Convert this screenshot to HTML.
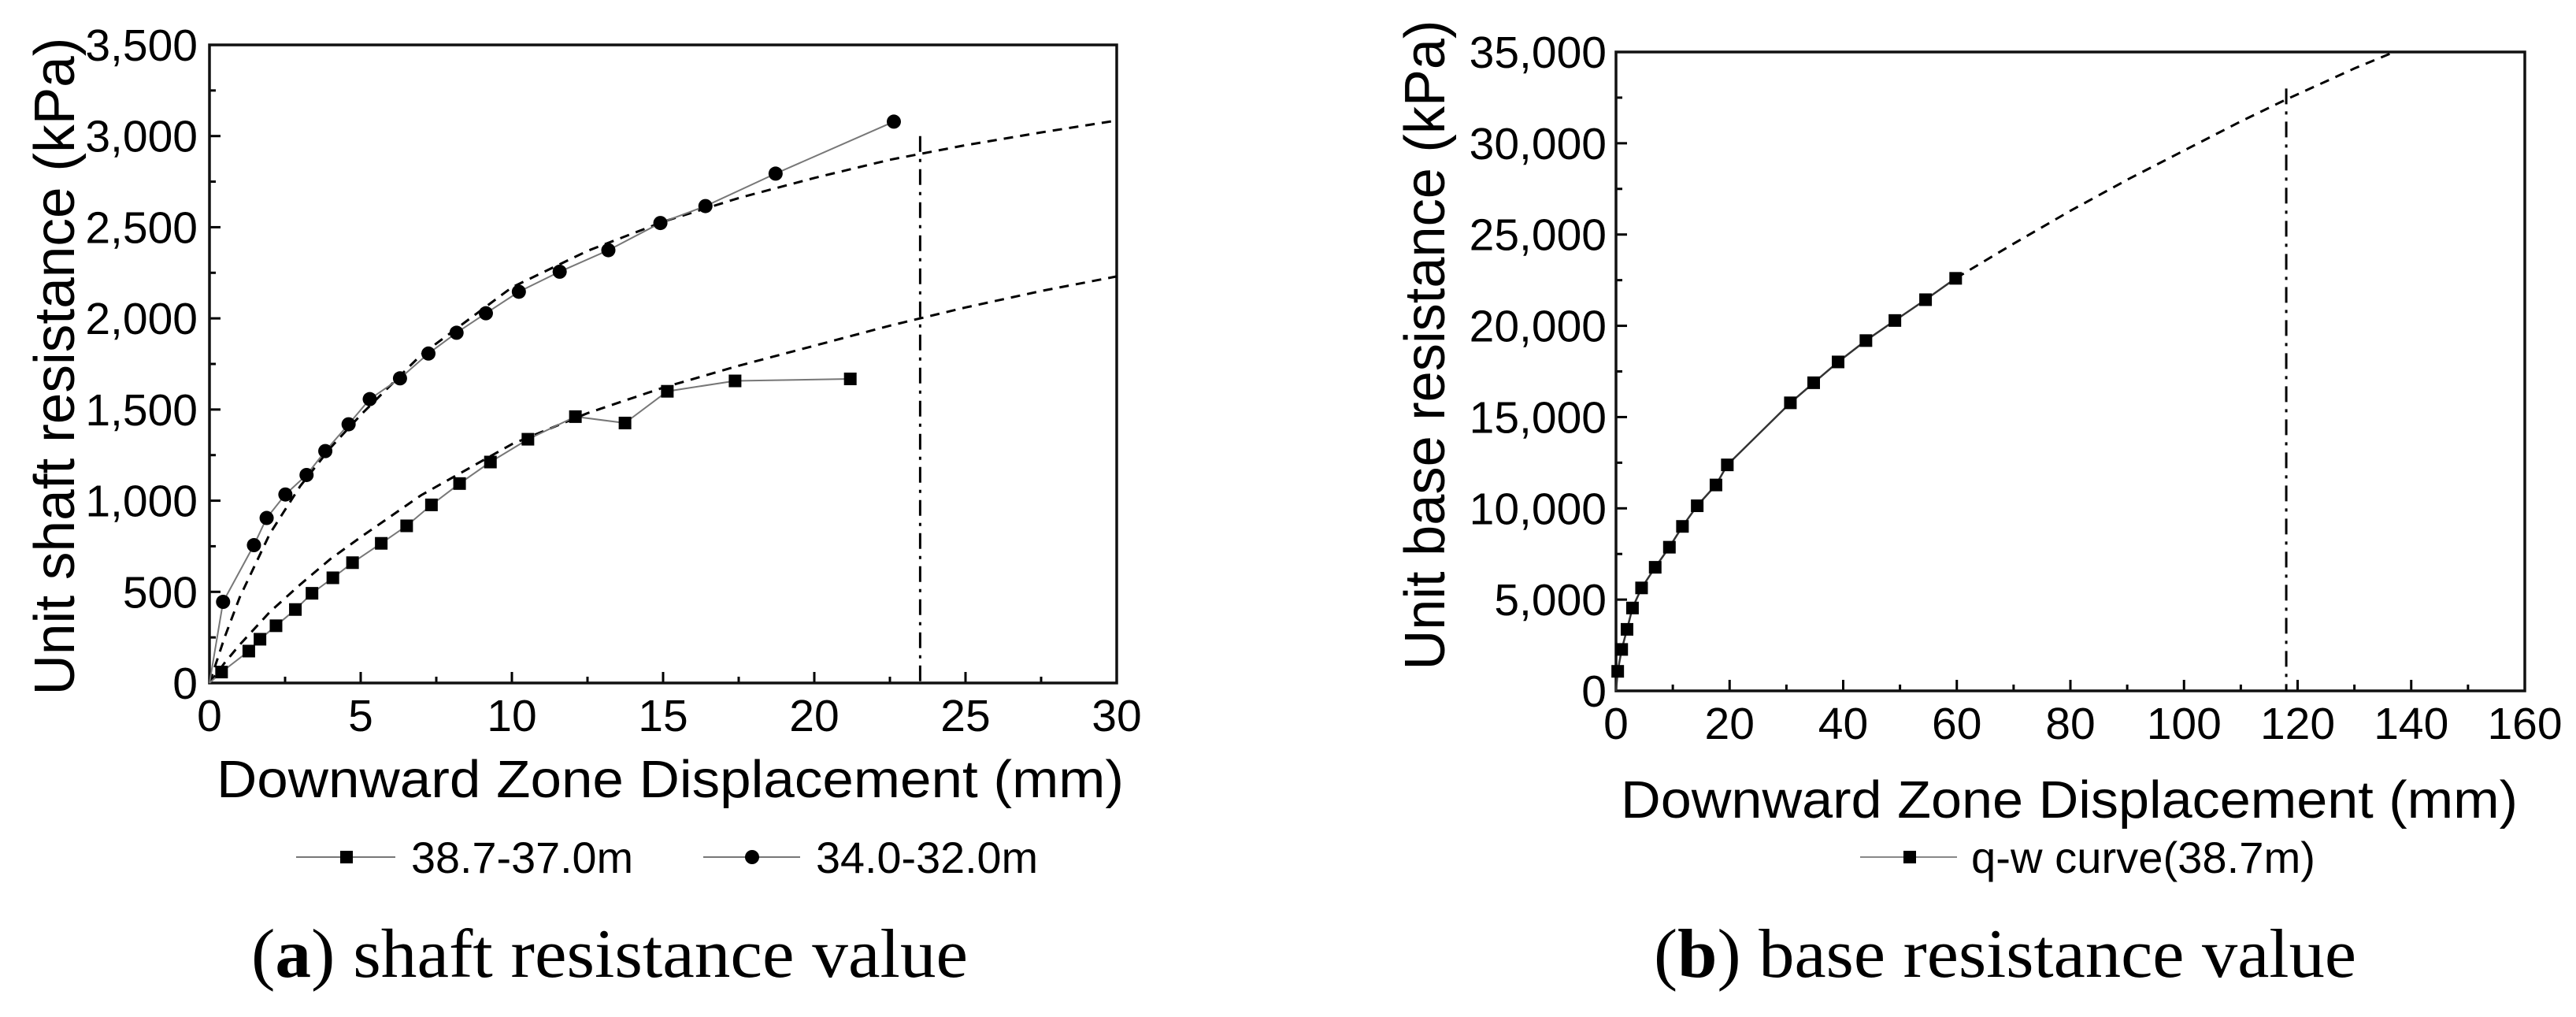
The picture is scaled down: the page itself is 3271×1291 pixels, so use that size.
<!DOCTYPE html>
<html><head><meta charset="utf-8">
<style>
html,body{margin:0;padding:0;background:#fff;}
svg{display:block;font-family:"Liberation Sans",Arial,sans-serif;}
</style></head>
<body>
<svg id="fig" width="3271" height="1291" viewBox="0 0 3271 1291" xmlns="http://www.w3.org/2000/svg">
<rect width="3271" height="1291" fill="#fff"/>
<g id="chartA"></g>
<g id="chartB"></g>
<text x="319" y="1240" font-family="'Liberation Serif',serif" font-size="88" textLength="910" lengthAdjust="spacingAndGlyphs">(<tspan font-weight="bold">a</tspan>) shaft resistance value</text>
<text x="2100" y="1240" font-family="'Liberation Serif',serif" font-size="88" textLength="892" lengthAdjust="spacingAndGlyphs">(<tspan font-weight="bold">b</tspan>) base resistance value</text>
</svg>
<script>
// ---- Chart A data ----
const aSquareX = [0.4,1.3,1.67,2.2,2.84,3.39,4.08,4.73,5.68,6.52,7.34,8.27,9.29,10.53,12.1,13.74,15.14,17.38,21.19];
const aSquareY = [60,175,240,314,403,492,577,660,766,862,977,1094,1212,1337,1461,1426,1600,1657,1668];
const aCircleX = [0.45,1.47,1.89,2.51,3.21,3.83,4.6,5.3,6.3,7.24,8.17,9.14,10.23,11.58,13.19,14.91,16.4,18.72,22.63];
const aCircleY = [445,756,905,1034,1141,1272,1419,1557,1671,1807,1921,2028,2146,2256,2374,2523,2616,2794,3079];
const aFitX = [0,0.5,1,2,3,4,5,7,10,12.5,15,17.5,20,22.5,25,27.5,30];
const aFitUpperY = [0,250,470,820,1080,1290,1470,1800,2170,2370,2530,2660,2770,2870,2950,3020,3085];
const aFitLowerY = [0,110,210,390,540,680,800,1030,1310,1480,1620,1740,1850,1960,2060,2150,2230];
const aLimitX = [23.5];
const aLimitTop = [3000];
const aXTicks = [0,5,10,15,20,25,30];
const aYTicks = [0,500,1000,1500,2000,2500,3000,3500];
const aYTickLabels = ["0","500","1,000","1,500","2,000","2,500","3,000","3,500"];
// ---- Chart B data ----
const bX = [0.3,1.0,1.94,2.9,4.5,6.9,9.4,11.7,14.3,17.6,19.6,30.7,34.8,39.1,44,49.1,54.5,59.8];
const bY = [1070,2270,3370,4540,5640,6770,7870,9010,10140,11280,12380,15780,16880,18020,19190,20290,21430,22600];
const bFitX = [59.8,70,80,90,100,110,118,130,137];
const bFitY = [22600,24500,26300,28000,29600,31200,32400,34100,35000];
const bLimitX = [118];
const bLimitTop = [33000];
const bXTicks = [0,20,40,60,80,100,120,140,160];
const bYTicks = [0,5000,10000,15000,20000,25000,30000,35000];
const bYTickLabels = ["0","5,000","10,000","15,000","20,000","25,000","30,000","35,000"];

const NS = "http://www.w3.org/2000/svg";
function mk(parent, tag, attrs){
  const e = document.createElementNS(NS, tag);
  for (const k in attrs) e.setAttribute(k, attrs[k]);
  parent.appendChild(e); return e;
}
function lin(d0,d1,r0,r1){ return v => r0 + (v-d0)/(d1-d0)*(r1-r0); }

function drawAxes(g, sx, sy, X0, X1, Y0, Y1, xt, yt, ytl, xmin, ymin, xLabY, yLabX){
  xt.forEach((v,i)=>{
    const t = mk(g,'line',{x1:sx(v),x2:sx(v),y1:Y1,y2:Y1-14,stroke:'#000','stroke-width':3});
    
    
    const l = mk(g,'text',{x:sx(v),y:xLabY,'font-size':57,'text-anchor':'middle'});
    l.textContent = String(v);
    
    
    if (i < xt.length-1){
      const mv = v + xmin;
      const m = mk(g,'line',{x1:sx(mv),x2:sx(mv),y1:Y1,y2:Y1-8,stroke:'#000','stroke-width':3});
      
      
    }
  });
  yt.forEach((v,i)=>{
    const t = mk(g,'line',{x1:X0,x2:X0+14,y1:sy(v),y2:sy(v),stroke:'#000','stroke-width':3});
    
    
    const l = mk(g,'text',{x:yLabX,y:sy(v)+20,'font-size':57,'text-anchor':'end'});
    l.textContent = ytl[i];
    
    
    if (i < yt.length-1){
      const mv = v + ymin;
      const m = mk(g,'line',{x1:X0,x2:X0+8,y1:sy(mv),y2:sy(mv),stroke:'#000','stroke-width':3});
      
      
    }
  });
  const f = mk(g,'rect',{x:X0,y:Y0,width:X1-X0,height:Y1-Y0,fill:'none',stroke:'#111','stroke-width':3.5});
  
  
}
function pathOf(xs, ys, sx, sy){
  return xs.map((x,i)=>(i?'L':'M')+sx(x).toFixed(1)+' '+sy(ys[i]).toFixed(1)).join(' ');
}
function squares(g, xs, ys, sx, sy, name){
  xs.forEach((x,i)=>{
    const r = mk(g,'rect',{x:sx(x)-8,y:sy(ys[i])-8,width:16,height:16,fill:'#000'});
    
    
  });
}
function circles(g, xs, ys, sx, sy, name){
  xs.forEach((x,i)=>{
    const c = mk(g,'circle',{cx:sx(x),cy:sy(ys[i]),r:9,fill:'#000'});
    
    
  });
}

// ---------- Chart A ----------
(function(){
  const g = document.getElementById('chartA');
  const X0=266, X1=1418, Y0=57, Y1=867;
  const sx = lin(0,30,X0,X1), sy = lin(0,3500,Y1,Y0);
  drawAxes(g,sx,sy,X0,X1,Y0,Y1,aXTicks,aYTicks,aYTickLabels,2.5,250,928,251);
  let p;
  p = mk(g,'path',{d:pathOf(aFitX,aFitUpperY,sx,sy),fill:'none',stroke:'#000','stroke-width':3,'stroke-dasharray':'12 9'});
  
  
  p = mk(g,'path',{d:pathOf(aFitX,aFitLowerY,sx,sy),fill:'none',stroke:'#000','stroke-width':3,'stroke-dasharray':'12 9'});
  
  
  p = mk(g,'line',{x1:sx(aLimitX[0]),x2:sx(aLimitX[0]),y1:sy(aLimitTop[0]),y2:Y1,stroke:'#000','stroke-width':3,'stroke-dasharray':'20 9 4 9'});
  
  
  p = mk(g,'path',{d:'M'+sx(0)+' '+sy(0)+' '+pathOf(aSquareX,aSquareY,sx,sy).replace('M','L'),fill:'none',stroke:'#777','stroke-width':2});
  
  
  p = mk(g,'path',{d:'M'+sx(0)+' '+sy(0)+' '+pathOf(aCircleX,aCircleY,sx,sy).replace('M','L'),fill:'none',stroke:'#777','stroke-width':2});
  
  
  squares(g,aSquareX,aSquareY,sx,sy,'series-38m-point');
  circles(g,aCircleX,aCircleY,sx,sy,'series-34m-point');
  let t = mk(g,'text',{x:275,y:1012,'font-size':67,textLength:1152,lengthAdjust:'spacingAndGlyphs'});
  t.textContent='Downward Zone Displacement (mm)';
  
  
  t = mk(g,'text',{x:0,y:0,'font-size':72,'text-anchor':'middle',transform:'translate(94,465) rotate(-90)',textLength:835,lengthAdjust:'spacingAndGlyphs'});
  t.textContent='Unit shaft resistance (kPa)';
  
  
  const lg = mk(g,'g',{});
  
  
  mk(lg,'line',{x1:376,x2:502,y1:1088,y2:1088,stroke:'#777','stroke-width':2});
  mk(lg,'rect',{x:432,y:1080,width:16,height:16,fill:'#000'});
  t = mk(lg,'text',{x:522,y:1108,'font-size':56,textLength:282,lengthAdjust:'spacingAndGlyphs'});
  t.textContent='38.7-37.0m';
  
  
  mk(lg,'line',{x1:893,x2:1016,y1:1088,y2:1088,stroke:'#777','stroke-width':2});
  mk(lg,'circle',{cx:955,cy:1088,r:9,fill:'#000'});
  t = mk(lg,'text',{x:1036,y:1108,'font-size':56,textLength:282,lengthAdjust:'spacingAndGlyphs'});
  t.textContent='34.0-32.0m';
  
  
})();

// ---------- Chart B ----------
(function(){
  const g = document.getElementById('chartB');
  const X0=2052, X1=3206, Y0=66, Y1=877;
  const sx = lin(0,160,X0,X1), sy = lin(0,35000,Y1,Y0);
  drawAxes(g,sx,sy,X0,X1,Y0,Y1,bXTicks,bYTicks,bYTickLabels,10,2500,938,2040);
  let p;
  p = mk(g,'path',{d:pathOf(bFitX,bFitY,sx,sy),fill:'none',stroke:'#000','stroke-width':3,'stroke-dasharray':'12 9'});
  
  
  p = mk(g,'line',{x1:sx(bLimitX[0]),x2:sx(bLimitX[0]),y1:sy(bLimitTop[0]),y2:Y1,stroke:'#000','stroke-width':3,'stroke-dasharray':'20 9 4 9'});
  
  
  p = mk(g,'path',{d:'M'+sx(0)+' '+sy(0)+' '+pathOf(bX,bY,sx,sy).replace('M','L'),fill:'none',stroke:'#333','stroke-width':2.5});
  
  
  squares(g,bX,bY,sx,sy,'qw-curve-point');
  let t = mk(g,'text',{x:2058,y:1038,'font-size':67,textLength:1139,lengthAdjust:'spacingAndGlyphs'});
  t.textContent='Downward Zone Displacement (mm)';
  
  
  t = mk(g,'text',{x:0,y:0,'font-size':72,'text-anchor':'middle',transform:'translate(1834,438) rotate(-90)',textLength:825,lengthAdjust:'spacingAndGlyphs'});
  t.textContent='Unit base resistance (kPa)';
  
  
  const lg = mk(g,'g',{});
  
  
  mk(lg,'line',{x1:2362,x2:2485,y1:1088,y2:1088,stroke:'#888','stroke-width':2});
  mk(lg,'rect',{x:2417,y:1080,width:16,height:16,fill:'#000'});
  t = mk(lg,'text',{x:2503,y:1108,'font-size':56,textLength:437,lengthAdjust:'spacingAndGlyphs'});
  t.textContent='q-w curve(38.7m)';
  
  
})();
</script>
</body></html>
